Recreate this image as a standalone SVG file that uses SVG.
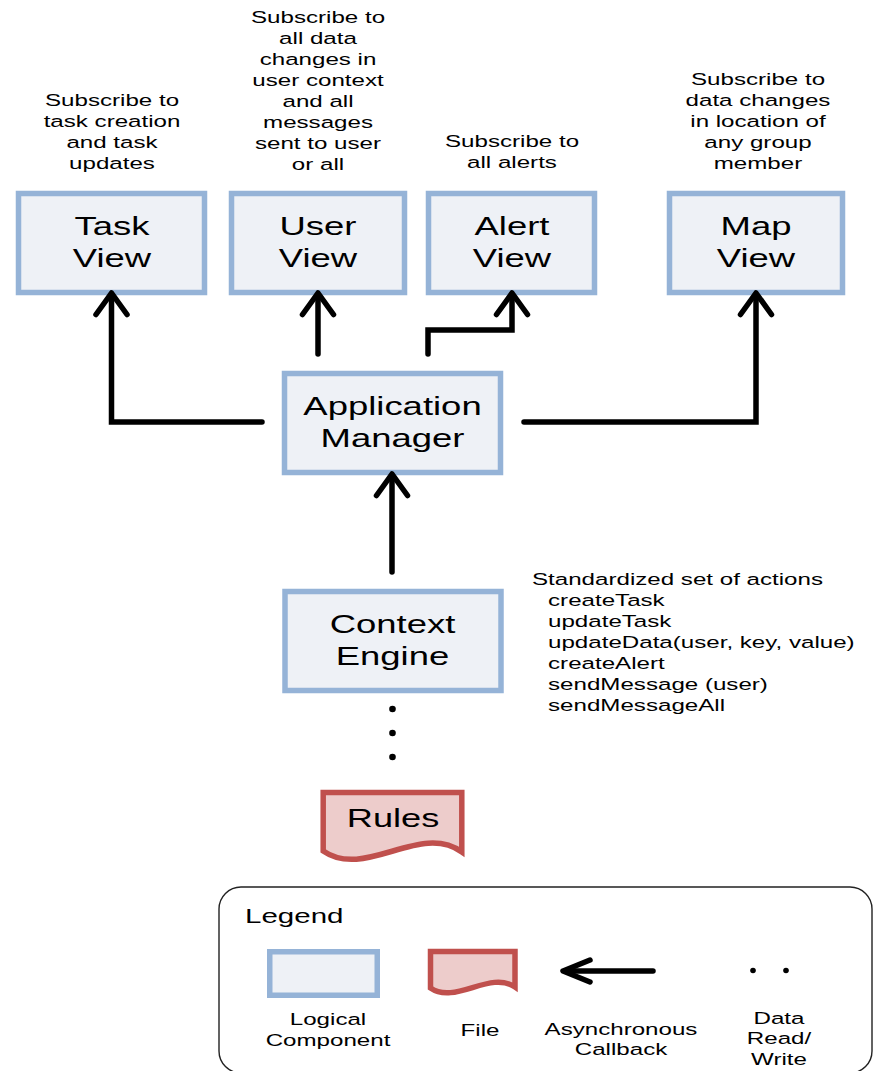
<svg xmlns="http://www.w3.org/2000/svg" width="874" height="1071" viewBox="0 0 874 1071">
<style>
  text { font-family: "Liberation Sans", Arial, sans-serif; fill: #000; }
  .note { font-size: 17px; text-anchor: middle; }
  .act { font-size: 17px; text-anchor: start; }
  .big { font-size: 25.5px; text-anchor: middle; }
  .lbl { font-size: 17px; text-anchor: middle; }
  .comp { fill: #EEF1F6; stroke: #95B3D7; stroke-width: 5.5; }
  .file { fill: #EDCCCB; stroke: #C0504D; stroke-width: 5.5; stroke-linejoin: miter; }
  .conn { fill: none; stroke: #000; stroke-width: 5.5; stroke-linecap: round; stroke-linejoin: miter; }
  .head { fill: none; stroke: #000; stroke-width: 5.5; stroke-linecap: round; stroke-linejoin: round; }
  .dot { fill: #000; }
</style>
<rect width="874" height="1071" fill="#fff"/>

<g id="notes">
  <text class="note" transform="translate(112 106) scale(1.42 1)"><tspan x="0" dy="0">Subscribe to</tspan><tspan x="0" dy="21">task creation</tspan><tspan x="0" dy="21">and task</tspan><tspan x="0" dy="21">updates</tspan></text>
  <text class="note" transform="translate(318 23) scale(1.42 1)"><tspan x="0" dy="0">Subscribe to</tspan><tspan x="0" dy="21">all data</tspan><tspan x="0" dy="21">changes in</tspan><tspan x="0" dy="21">user context</tspan><tspan x="0" dy="21">and all</tspan><tspan x="0" dy="21">messages</tspan><tspan x="0" dy="21">sent to user</tspan><tspan x="0" dy="21">or all</tspan></text>
  <text class="note" transform="translate(512 147) scale(1.42 1)"><tspan x="0" dy="0">Subscribe to</tspan><tspan x="0" dy="21">all alerts</tspan></text>
  <text class="note" transform="translate(758 85) scale(1.42 1)"><tspan x="0" dy="0">Subscribe to</tspan><tspan x="0" dy="21">data changes</tspan><tspan x="0" dy="21">in location of</tspan><tspan x="0" dy="21">any group</tspan><tspan x="0" dy="21">member</tspan></text>
  <text class="act" transform="translate(532 585) scale(1.42 1)"><tspan x="0" dy="0">Standardized set of actions</tspan><tspan x="11.3" dy="21">createTask</tspan><tspan x="11.3" dy="21">updateTask</tspan><tspan x="11.3" dy="21">updateData(user, key, value)</tspan><tspan x="11.3" dy="21">createAlert</tspan><tspan x="11.3" dy="21">sendMessage (user)</tspan><tspan x="11.3" dy="21">sendMessageAll</tspan></text>
</g>

<g id="task-view">
  <rect class="comp" x="18.5" y="193.5" width="186" height="99"/>
  <text class="big" transform="translate(112 235) scale(1.43 1)"><tspan x="0" dy="0">Task</tspan><tspan x="0" dy="32">View</tspan></text>
</g>
<g id="user-view">
  <rect class="comp" x="231.5" y="193.5" width="173" height="99"/>
  <text class="big" transform="translate(318 235) scale(1.43 1)"><tspan x="0" dy="0">User</tspan><tspan x="0" dy="32">View</tspan></text>
</g>
<g id="alert-view">
  <rect class="comp" x="428.5" y="193.5" width="166" height="99"/>
  <text class="big" transform="translate(512 235) scale(1.43 1)"><tspan x="0" dy="0">Alert</tspan><tspan x="0" dy="32">View</tspan></text>
</g>
<g id="map-view">
  <rect class="comp" x="669.5" y="193.5" width="173" height="99"/>
  <text class="big" transform="translate(756 235) scale(1.43 1)"><tspan x="0" dy="0">Map</tspan><tspan x="0" dy="32">View</tspan></text>
</g>
<g id="app-manager">
  <rect class="comp" x="284.5" y="373.5" width="216" height="99"/>
  <text class="big" transform="translate(392.5 415) scale(1.43 1)"><tspan x="0" dy="0">Application</tspan><tspan x="0" dy="32">Manager</tspan></text>
</g>
<g id="context-engine">
  <rect class="comp" x="285" y="591.5" width="216" height="99"/>
  <text class="big" transform="translate(392.5 633) scale(1.43 1)"><tspan x="0" dy="0">Context</tspan><tspan x="0" dy="32">Engine</tspan></text>
</g>
<g id="rules">
  <path class="file" d="M323.2,792.5 H461.8 V852 C420,822 365,880 323.2,851 Z"/>
  <text class="big" transform="translate(393 827) scale(1.42 1)">Rules</text>
</g>

<g id="connectors">
  <path class="conn" d="M262,422 H111.5 V295"/>
  <path class="head" d="M96,314.5 L111.5,293 L127,314.5"/>
  <path class="conn" d="M318,354 V295"/>
  <path class="head" d="M302.5,314.5 L318,293 L333.5,314.5"/>
  <path class="conn" d="M428,354 V330 H512 V295"/>
  <path class="head" d="M496.5,314.5 L512,293 L527.5,314.5"/>
  <path class="conn" d="M524,422 H756 V295"/>
  <path class="head" d="M740.5,314.5 L756,293 L771.5,314.5"/>
  <path class="conn" d="M392,572 V476"/>
  <path class="head" d="M376.5,495.5 L392,474 L407.5,495.5"/>
  <circle class="dot" cx="392.5" cy="709" r="3.3"/>
  <circle class="dot" cx="392.5" cy="733" r="3.3"/>
  <circle class="dot" cx="392.5" cy="757" r="3.3"/>
</g>

<g id="legend">
  <rect x="219" y="887" width="653" height="186" rx="22" ry="22" fill="none" stroke="#222" stroke-width="1.4"/>
  <text transform="translate(245 922.5) scale(1.44 1)" style="font-size:20.5px">Legend</text>
  <rect class="comp" x="269.75" y="951.75" width="107.5" height="43.5"/>
  <path class="file" d="M430.5,951.5 H515 V987 C490,970 455,1005 430.5,988 Z"/>
  <path class="conn" d="M653,971 H565"/>
  <path class="head" d="M590,960 L563,971 L590,982"/>
  <circle class="dot" cx="753" cy="970.5" r="2.8"/>
  <circle class="dot" cx="786" cy="970.5" r="2.8"/>
  <text class="lbl" transform="translate(328 1025) scale(1.42 1)"><tspan x="0" dy="0">Logical</tspan><tspan x="0" dy="21">Component</tspan></text>
  <text class="lbl" transform="translate(480 1035.5) scale(1.42 1)">File</text>
  <text class="lbl" transform="translate(621 1034.5) scale(1.42 1)"><tspan x="0" dy="0">Asynchronous</tspan><tspan x="0" dy="21">Callback</tspan></text>
  <text class="lbl" transform="translate(779 1023.5) scale(1.42 1)"><tspan x="0" dy="0">Data</tspan><tspan x="0" dy="21">Read/</tspan><tspan x="0" dy="21">Write</tspan></text>
</g>
</svg>
